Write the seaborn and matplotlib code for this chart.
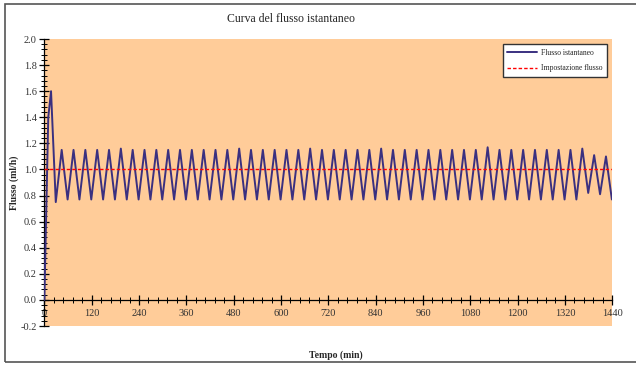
import pandas as pd
import seaborn as sns
import matplotlib.pyplot as plt
from matplotlib.patches import Rectangle
from matplotlib.ticker import MultipleLocator, FormatStrFormatter

# Start-up transient (min, ml/h)
start_t = [0, 10, 17]
start_v = [0.0, 1.40, 1.60]

# Peaks every 30 min from t=44, troughs every 30 min from t=29
peak_t = list(range(44, 1425, 30))
peak_v = [1.15, 1.15, 1.15, 1.15, 1.15, 1.16, 1.15, 1.15, 1.15, 1.15,
          1.15, 1.15, 1.15, 1.15, 1.15, 1.16, 1.15, 1.15, 1.15, 1.15,
          1.15, 1.16, 1.15, 1.15, 1.15, 1.15, 1.15, 1.16, 1.15, 1.15,
          1.15, 1.15, 1.15, 1.15, 1.15, 1.15, 1.17, 1.15, 1.15, 1.15,
          1.15, 1.15, 1.15, 1.15, 1.16, 1.11, 1.10]
trough_t = list(range(29, 1440, 30))
trough_v = [0.75, 0.77, 0.77, 0.77, 0.77, 0.77, 0.77, 0.77, 0.77, 0.77,
            0.77, 0.77, 0.77, 0.77, 0.77, 0.77, 0.77, 0.77, 0.77, 0.77,
            0.77, 0.77, 0.77, 0.77, 0.77, 0.77, 0.77, 0.77, 0.77, 0.77,
            0.77, 0.77, 0.77, 0.77, 0.77, 0.77, 0.77, 0.77, 0.77, 0.77,
            0.77, 0.77, 0.77, 0.77, 0.77, 0.82, 0.81, 0.77]

# Set point
set_t = [0, 1440]
set_v = [1.0, 1.0]

pts = sorted(zip(start_t + peak_t + trough_t, start_v + peak_v + trough_v))
flow = pd.DataFrame(pts, columns=['t', 'flusso'])
setp = pd.DataFrame({'t': set_t, 'flusso': set_v})

sns.set_style('ticks')
plt.rcParams['font.family'] = ['Liberation Serif', 'DejaVu Serif']

fig = plt.figure(figsize=(6.36, 3.65), dpi=100)
ax = fig.add_axes([0.0697, 0.1068, 0.8930, 0.7863])
ax.set_facecolor('#FFCC99')

sns.lineplot(data=flow, x='t', y='flusso', ax=ax, legend=False)
sns.lineplot(data=setp, x='t', y='flusso', ax=ax, legend=False)
flow_line, set_line = ax.lines[0], ax.lines[1]
flow_line.set_color('#3a3080')
flow_line.set_linewidth(1.4)
set_line.set_color('#ff0000')
set_line.set_linewidth(1.0)
set_line.set_dashes((2.5, 1.5))

ax.set_xlim(0, 1440)
ax.set_ylim(-0.2, 2.0)
ax.xaxis.set_major_locator(MultipleLocator(120))
ax.xaxis.set_minor_locator(MultipleLocator(24))
ax.yaxis.set_major_locator(MultipleLocator(0.2))
ax.yaxis.set_minor_locator(MultipleLocator(0.04))
ax.yaxis.set_major_formatter(FormatStrFormatter('%.1f'))

ax.spines['top'].set_visible(False)
ax.spines['right'].set_visible(False)
ax.spines['bottom'].set_position(('data', 0))
for s in ('left', 'bottom'):
    ax.spines[s].set_linewidth(0.9)
    ax.spines[s].set_color('black')
    ax.spines[s].set_zorder(1)

ax.tick_params(which='major', direction='inout', length=7, width=0.9,
               labelsize=7.5, colors='black', pad=2)
ax.tick_params(which='minor', direction='inout', length=4, width=0.7,
               colors='black')
ax.tick_params(axis='x', which='major', pad=3)
for lab in ax.get_xticklabels() + ax.get_yticklabels():
    lab.set_color('#333333')

ax.set_xlabel('Tempo (min)', fontsize=7, fontweight='bold')
ax.set_ylabel('Flusso (ml/h)', fontsize=7, fontweight='bold')
ax.xaxis.set_label_coords(0.513, -0.085)
ax.yaxis.set_label_coords(-0.045, 0.5)

fig.text(291 / 636, 1 - 19 / 365, 'Curva del flusso istantaneo', fontsize=8.5,
         ha='center', va='center')

leg = ax.legend([flow_line, set_line], ['Flusso istantaneo', 'Impostazione flusso'],
                loc='upper right', bbox_to_anchor=(607 / 636, 1 - 44 / 365),
                bbox_transform=fig.transFigure, fontsize=5.5, frameon=True,
                fancybox=False, framealpha=1, edgecolor='#333333',
                handlelength=3.9, borderpad=0.6, labelspacing=1.0,
                handletextpad=0.5, borderaxespad=0)
leg.get_frame().set_linewidth(1.0)

fig.patches.append(Rectangle((5 / 636, 3 / 365), 1.2, 1 - 6.5 / 365,
                             transform=fig.transFigure, fill=False,
                             edgecolor='#555555', lw=1.2))

plt.savefig('out.png', dpi=100)
